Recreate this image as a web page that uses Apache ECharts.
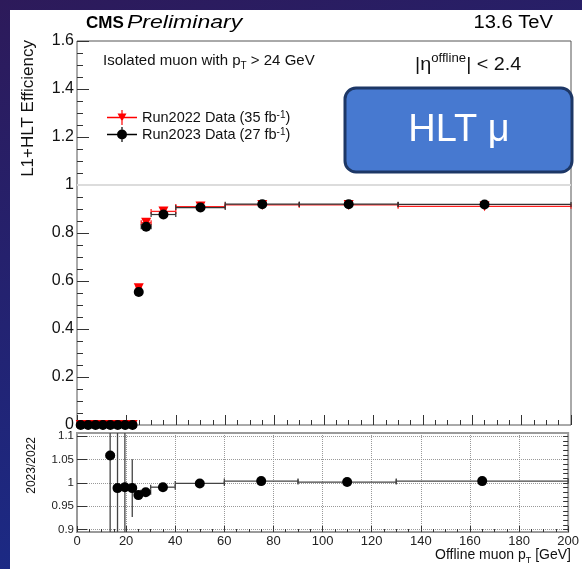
<!DOCTYPE html>
<html><head><meta charset="utf-8">
<script src="https://cdn.jsdelivr.net/npm/echarts@6/dist/echarts.min.js"></script>
<style>html,body{margin:0;padding:0;background:#24205f;} #c{width:582px;height:569px;}</style>
</head><body><div id="c"></div>
<script>
// ---- data ----
const binLo    = [0, 3, 6, 9, 12, 15, 18, 21, 24, 26, 30, 40, 60, 90, 130];
const binHi    = [3, 6, 9, 12, 15, 18, 21, 24, 26, 30, 40, 60, 90, 130, 200];
const ptCenter = [1.5, 4.5, 7.5, 10.5, 13.5, 16.5, 19.5, 22.5, 25, 28, 35, 50, 75, 110, 165];
const eff2022  = [0, 0, 0, 0, 0, 0, 0, 0, 0.570, 0.843, 0.890, 0.910, 0.917, 0.917, 0.911];
const err2022  = [0.002, 0.002, 0.002, 0.002, 0.002, 0.002, 0.002, 0.002, 0.004, 0.003, 0.002, 0.001, 0.001, 0.001, 0.002];
const eff2023  = [0, 0, 0, 0, 0, 0, 0, 0, 0.554, 0.826, 0.877, 0.906, 0.920, 0.920, 0.919];
const err2023  = [0.002, 0.002, 0.002, 0.002, 0.002, 0.002, 0.002, 0.002, 0.004, 0.003, 0.002, 0.001, 0.001, 0.001, 0.002];
const ratio    = [null, null, null, null, 1.059, 0.989, 0.991, 0.989, 0.974, 0.980, 0.991, 0.999, 1.004, 1.002, 1.004];
const ratioErr = [null, null, null, null, 0.30, 0.30, 0.30, 0.062, 0.006, 0.004, 0.003, 0.002, 0.002, 0.002, 0.003];
const effTicks   = [0, 0.2, 0.4, 0.6, 0.8, 1, 1.2, 1.4, 1.6];
const ratioTicks = [0.9, 0.95, 1, 1.05, 1.1];
const ptTicks    = [0, 20, 40, 60, 80, 100, 120, 140, 160, 180, 200];

const FONT = 'Liberation Sans, Arial, Helvetica, sans-serif';

function rows(eff, err) {
  return ptCenter.map((x, i) => eff[i] == null ? null : [x, eff[i], binLo[i], binHi[i], eff[i] - err[i], eff[i] + err[i]]).filter(Boolean);
}
function errBar(color, width) {
  return function (params, api) {
    const x = api.value(0), y = api.value(1);
    const pL = api.coord([api.value(2), y]), pR = api.coord([api.value(3), y]);
    const pB = api.coord([x, api.value(4)]), pT = api.coord([x, api.value(5)]);
    const cap = 2.5;
    const st = { stroke: color, lineWidth: width, fill: null };
    return { type: 'group', children: [
      { type: 'line', shape: { x1: pL[0], y1: pL[1], x2: pR[0], y2: pR[1] }, style: st },
      { type: 'line', shape: { x1: pL[0], y1: pL[1] - cap, x2: pL[0], y2: pL[1] + cap }, style: st },
      { type: 'line', shape: { x1: pR[0], y1: pR[1] - cap, x2: pR[0], y2: pR[1] + cap }, style: st },
      { type: 'line', shape: { x1: pB[0], y1: pB[1], x2: pT[0], y2: pT[1] }, style: st }
    ]};
  };
}
const d22 = rows(eff2022, err2022);
const d23 = rows(eff2023, err2023);
const dR = ptCenter.map((x, i) => ratio[i] == null ? null : [x, ratio[i], binLo[i], binHi[i], ratio[i] - ratioErr[i], ratio[i] + ratioErr[i]]).filter(Boolean);

const minorRatio = [];
for (let k = 0; k <= 20; k++) minorRatio.push(+(0.9 + k * 0.01).toFixed(2));

const chart = echarts.init(document.getElementById('c'), null, { renderer: 'canvas' });
const sup = { fontSize: 10, verticalAlign: 'top', fontFamily: FONT, color: '#111' };

chart.setOption({
  animation: false,
  backgroundColor: { type: 'linear', x: 0, y: 0, x2: 0.3, y2: 1, colorStops: [
    { offset: 0, color: '#2d1a5a' }, { offset: 1, color: '#1a2b88' } ] },
  grid: [
    { left: 77, top: 41, width: 494, height: 384, show: true, borderColor: '#555', borderWidth: 1, backgroundColor: '#fff' },
    { left: 77, top: 433, width: 494, height: 99, show: true, borderColor: '#9a9a9a', borderWidth: 2, backgroundColor: '#fff' }
  ],
  xAxis: [
    { gridIndex: 0, type: 'value', min: 0, max: 200, interval: 20,
      axisLine: { show: false },
      axisTick: { inside: true, length: 10, lineStyle: { color: '#333' } },
      minorTick: { show: true, splitNumber: 4, length: 5, lineStyle: { color: '#333' } },
      axisLabel: { show: false }, splitLine: { show: false } },
    { gridIndex: 1, type: 'value', min: 0, max: 200, interval: 20,
      axisLine: { show: false },
      axisTick: { inside: true, length: 6, lineStyle: { color: '#333' } },
      minorTick: { show: true, splitNumber: 4, length: 3, lineStyle: { color: '#333' } },
      axisLabel: { fontSize: 13, color: '#222', fontFamily: FONT, margin: 3 },
      splitLine: { show: true, lineStyle: { color: '#999', type: 'dotted', width: 1 } } }
  ],
  yAxis: [
    { gridIndex: 0, type: 'value', min: 0, max: 1.6, interval: 0.2,
      axisLine: { show: false },
      axisTick: { inside: true, length: 12, lineStyle: { color: '#333' } },
      minorTick: { show: true, splitNumber: 4, length: 6, lineStyle: { color: '#333' } },
      axisLabel: { fontSize: 16, color: '#111', fontFamily: FONT, margin: 3,
        formatter: v => String(Math.round(v * 10) / 10) },
      splitLine: { show: false } },
    { gridIndex: 1, type: 'value', min: 0.895, max: 1.107,
      axisLine: { show: false },
      axisTick: { inside: true, length: 10, customValues: ratioTicks, lineStyle: { color: '#333' } },
      axisLabel: { fontSize: 11.5, color: '#222', fontFamily: FONT, margin: 3, customValues: ratioTicks,
        formatter: v => String(+v.toFixed(2)) },
      splitLine: { show: true, lineStyle: { color: '#999', type: 'dotted', width: 1 } } },
    { gridIndex: 1, type: 'value', min: 0.895, max: 1.107,
      axisLine: { show: false },
      axisTick: { inside: true, length: 5, customValues: minorRatio, lineStyle: { color: '#333' } },
      axisLabel: { show: false }, splitLine: { show: false } }
  ],
  legend: {
    left: 102, top: 105, orient: 'vertical', itemGap: 2, itemWidth: 30, itemHeight: 15,
    selectedMode: false,
    textStyle: { fontSize: 14.5, color: '#111', fontFamily: FONT, rich: { sup: sup } },
    data: [
      { name: 'Run2022', icon: 'path://M0,6.8 L30,6.8 L30,8.2 L0,8.2 Z M14.4,0 L15.6,0 L15.6,15 L14.4,15 Z M10.5,3.5 L19.5,3.5 L15,11.5 Z' },
      { name: 'Run2023', icon: 'path://M0,6.8 L30,6.8 L30,8.2 L0,8.2 Z M14.4,0 L15.6,0 L15.6,15 L14.4,15 Z M10,7.5 A5,5 0 1,1 20,7.5 A5,5 0 1,1 10,7.5 Z' }
    ],
    formatter: n => n === 'Run2022' ? 'Run2022 Data (35 fb{sup|-1})' : 'Run2023 Data (27 fb{sup|-1})'
  },
  series: [
    { type: 'custom', name: 'err2022', xAxisIndex: 0, yAxisIndex: 0, renderItem: errBar('#ff2020', 1.3), data: d22, z: 2,
      markLine: { silent: true, symbol: 'none', label: { show: false }, lineStyle: { color: '#dcdcdc', width: 2, type: 'solid' },
        data: [{ yAxis: 1 }] } },
    { type: 'scatter', name: 'Run2022', xAxisIndex: 0, yAxisIndex: 0, data: d22.map(r => [r[0], r[1]]),
      symbol: 'triangle', symbolRotate: 180, symbolSize: 10, itemStyle: { color: '#ff0000', opacity: 1 }, z: 3 },
    { type: 'custom', name: 'err2023', xAxisIndex: 0, yAxisIndex: 0, renderItem: errBar('#333', 1.2), data: d23, z: 4 },
    { type: 'scatter', name: 'Run2023', xAxisIndex: 0, yAxisIndex: 0, data: d23.map(r => [r[0], r[1]]),
      symbol: 'circle', symbolSize: 10, itemStyle: { color: '#000', opacity: 1 }, z: 5 },
    { type: 'custom', name: 'errRatio', xAxisIndex: 1, yAxisIndex: 1, renderItem: errBar('#444', 1.3), data: dR, clip: true, z: 4 },
    { type: 'scatter', name: 'ratio', xAxisIndex: 1, yAxisIndex: 1, data: dR.map(r => [r[0], r[1]]),
      symbol: 'circle', symbolSize: 10, itemStyle: { color: '#000', opacity: 1 }, z: 5 }
  ],
  graphic: [
    { type: 'rect', z: -10, silent: true, shape: { x: 10, y: 10, width: 572, height: 559 }, style: { fill: '#fff' } },
    { type: 'text', x: 86, y: 23, style: { text: 'CMS', font: 'bold 17px ' + FONT, fill: '#000', verticalAlign: 'middle' } },
    { type: 'text', x: 127, y: 23, scaleX: 1.28, style: { text: 'Preliminary', font: 'italic 18px ' + FONT, fill: '#000', verticalAlign: 'middle' } },
    { type: 'text', x: 553, y: 23, scaleX: 1.12, style: { text: '13.6 TeV', font: '18px ' + FONT, fill: '#000', align: 'right', verticalAlign: 'middle' } },
    { type: 'text', x: 103, y: 51, style: { text: 'Isolated muon with p{sb|T} > 24 GeV', fill: '#111',
        font: '15px ' + FONT, rich: { sb: { fontSize: 10, verticalAlign: 'bottom', fontFamily: FONT, fill: '#111' } },
        lineHeight: 20, verticalAlign: 'top' } },
    { type: 'text', x: 415, y: 53, scaleX: 1.1, style: { text: '|η{sp|offline}| < 2.4', fill: '#111',
        font: '18px ' + FONT, rich: { sp: { fontSize: 12, verticalAlign: 'top', fontFamily: FONT, fill: '#111' } },
        lineHeight: 25, verticalAlign: 'top' } },
    { type: 'text', x: 28, y: 40, rotation: Math.PI / 2, style: { text: 'L1+HLT Efficiency', font: '17px ' + FONT, fill: '#111', align: 'right', verticalAlign: 'middle' } },
    { type: 'text', x: 32, y: 437, rotation: Math.PI / 2, style: { text: '2023/2022', font: '12px ' + FONT, fill: '#111', align: 'right', verticalAlign: 'middle' } },
    { type: 'text', x: 571, y: 545, style: { text: 'Offline muon p{sb|T} [GeV]', fill: '#111', align: 'right',
        font: '14px ' + FONT, rich: { sb: { fontSize: 9, verticalAlign: 'bottom', fontFamily: FONT, fill: '#111' } },
        lineHeight: 20, verticalAlign: 'top' } },
    { type: 'rect', z: 100, shape: { x: 345, y: 88, width: 227, height: 84, r: 11 },
      style: { fill: '#4779d0', stroke: '#1d3766', lineWidth: 3 } },
    { type: 'text', z: 101, x: 459, y: 131, style: { text: 'HLT μ', font: '38px ' + FONT, fill: '#fff', align: 'center', verticalAlign: 'middle' } }
  ]
});
</script>
</body></html>
